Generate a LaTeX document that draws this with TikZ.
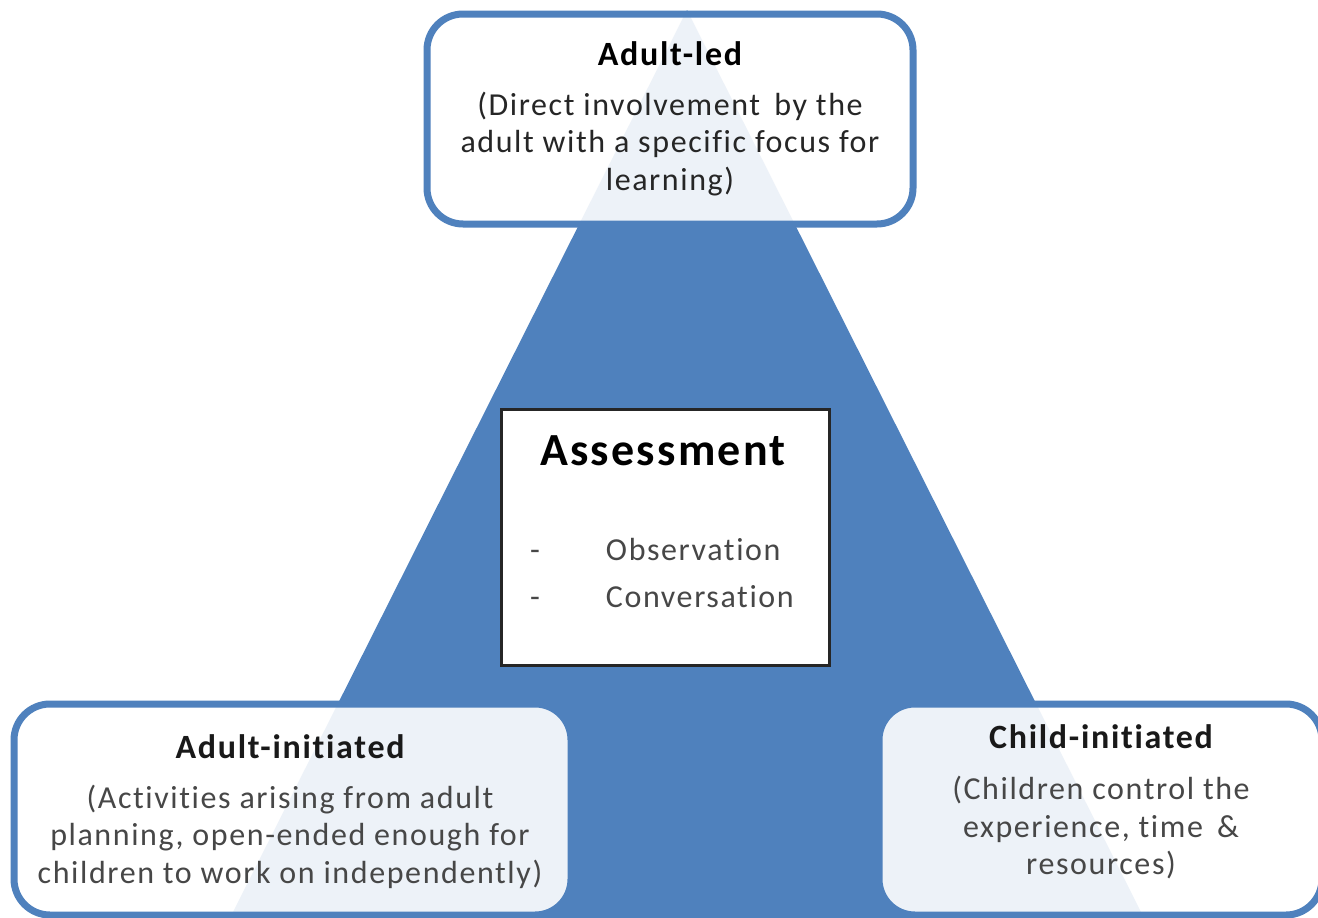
\documentclass[tikz,border=0pt]{standalone}
\usepackage{fontspec}
\setmainfont{Carlito}[LetterSpace=5, Ligatures=NoCommon]
\definecolor{tblue}{HTML}{4F81BD}
\begin{document}
\begin{tikzpicture}[x=1pt,y=-1pt,
  roundbox/.style={draw=tblue, line width=7pt, fill=white, fill opacity=0.9, rounded corners=36pt, inner sep=0pt},
  centrebox/.style={draw=black!85, line width=3pt, fill=white, inner sep=0pt},
  boxtext/.style={anchor=base, inner sep=0pt, font=\fontsize{32}{37.5}\selectfont},
]
\useasboundingbox (0,0) rectangle (1318,918);
\clip (0,0) rectangle (1318,918);
\fill[white] (0,0) rectangle (1318,918);
% triangle
\fill[tblue] (687,10) -- (1144,918) -- (230,918) -- cycle;
% boxes
\node[roundbox, minimum width=486pt, minimum height=210pt] (led) at (670,119) {};
\node[roundbox, minimum width=557pt, minimum height=211pt] (adultinit) at (292.5,809.5) {};
\node[roundbox, minimum width=443pt, minimum height=211pt] (childinit) at (1100.5,809.5) {};
\node[centrebox, minimum width=328pt, minimum height=256pt] (assess) at (665.5,537.5) {};
% texts
\node[boxtext, text=black!85] (ledtext) at (670,65) {\begin{tabular}[t]{@{}c@{}}{\fontsize{34}{37.5}\selectfont\bfseries\color{black}Adult-led}\\[12.5pt]
(Direct involvement\, by the\\ adult with a specific focus for\\ learning)\end{tabular}};
\node[boxtext, text=black!72] (adultinittext) at (290,758) {\begin{tabular}[t]{@{}c@{}}{\fontsize{34}{37.5}\selectfont\bfseries\color{black!90}Adult-initiated}\\[12.5pt]
(Activities arising from adult\\ planning, open-ended enough for\\ children to work on independently)\end{tabular}};
\node[boxtext, text=black!72] (childinittext) at (1101,748) {\begin{tabular}[t]{@{}c@{}}{\fontsize{34}{37.5}\selectfont\bfseries\color{black!90}Child-initiated}\\[14pt]
(Children control the\\ experience, time\, \&\\ resources)\end{tabular}};
\node[anchor=base, inner sep=0pt, font=\fontsize{46}{50}\selectfont\bfseries] (assesstitle) at (663,465) {Assessment};
\node[anchor=base west, inner sep=0pt, text=black!72, font=\fontsize{32}{47}\selectfont] (assesslist) at (530,560) {\begin{tabular}[t]{@{}l@{\hspace{66pt}}l@{}}- & Observation\\ - & Conversation\end{tabular}};
\end{tikzpicture}
\end{document}
